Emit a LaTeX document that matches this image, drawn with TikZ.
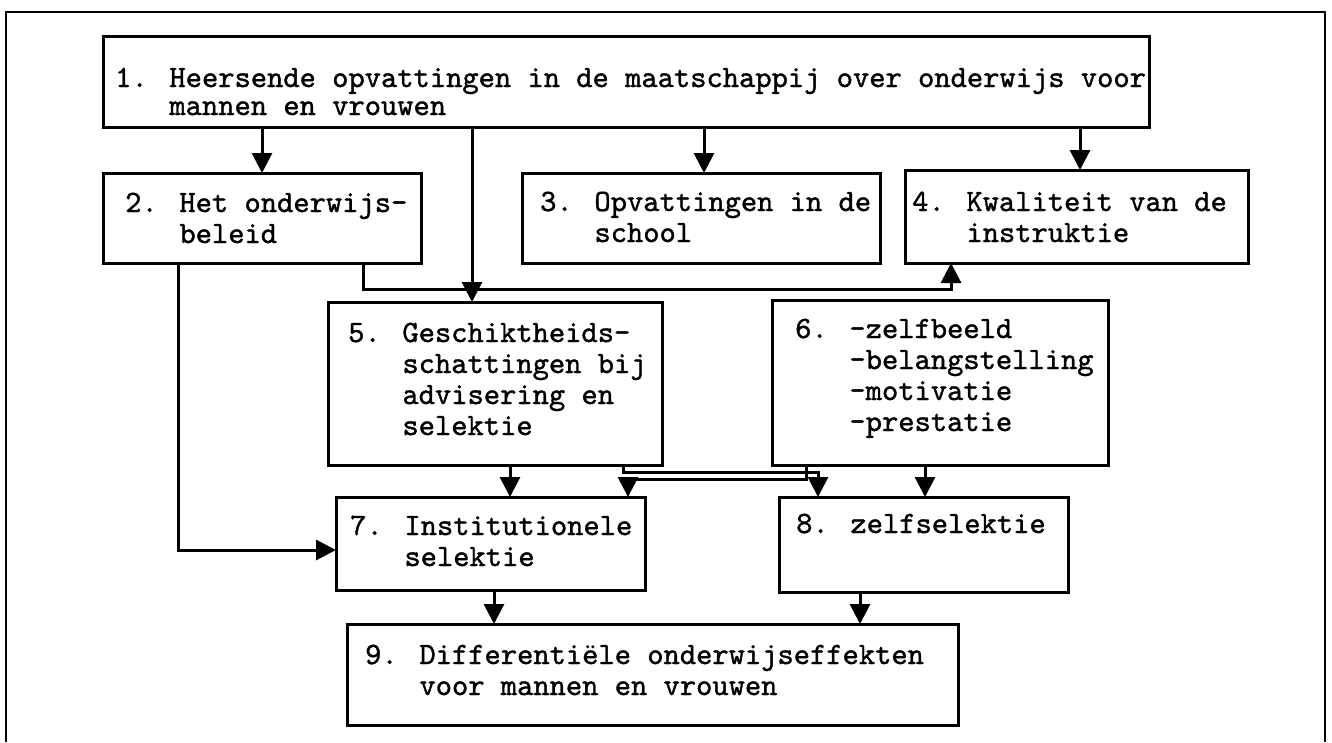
\documentclass[tikz,border=0pt]{standalone}
\usepackage{fontspec}
\newfontfamily\tw{lmmono10-regular}[Extension=.otf, FakeBold=1.2]
\usetikzlibrary{arrows.meta}
\begin{document}
\begin{tikzpicture}[x=1pt,y=-1pt,
  box/.style={draw, line width=3pt, anchor=north west, inner sep=0pt, outer sep=0pt},
  txt/.style={anchor=base west, inner sep=0pt, align=left, font=\tw\fontsize{31}{31}\selectfont},
  arr/.style={line width=3pt, -{Triangle[length=20pt,width=20pt]}},
  framestyle/.style={line width=2.4pt}]
\useasboundingbox (0,0) rectangle (1332,742);
% outer frame
\draw[framestyle] (6,742) -- (6,12) -- (1325,12) -- (1325,742);
% boxes
\node[box, minimum width=1046pt, minimum height=91pt] (b1) at (103,36) {};
\node[box, minimum width=318pt, minimum height=90pt] (b2) at (103,173) {};
\node[box, minimum width=358pt, minimum height=90pt] (b3) at (522,173) {};
\node[box, minimum width=343pt, minimum height=93pt] (b4) at (905,170) {};
\node[box, minimum width=334pt, minimum height=163pt] (b5) at (328,302) {};
\node[box, minimum width=336pt, minimum height=165pt] (b6) at (772,300) {};
\node[box, minimum width=309pt, minimum height=93pt] (b7) at (336,497) {};
\node[box, minimum width=289pt, minimum height=95pt] (b8) at (779,497) {};
\node[box, minimum width=611pt, minimum height=101pt] (b9) at (347,624) {};
% texts (anchored at the baseline of their last line)
\node[txt, font=\tw\fontsize{31}{28}\selectfont] (t1) at (115,115) {1. Heersende opvattingen in de maatschappij over onderwijs voor\\\hphantom{1. }mannen en vrouwen};
\node[txt] (t2) at (125,243) {2. Het onderwijs-\\\hphantom{2. }beleid};
\node[txt] (t3) at (540,242) {3. Opvattingen in de\\\hphantom{3. }school};
\node[txt] (t4) at (912,242) {4. Kwaliteit van de\\\hphantom{4. }instruktie};
\node[txt] (t5) at (348,435) {5. Geschiktheids-\\\hphantom{5. }schattingen bij\\\hphantom{5. }advisering en\\\hphantom{5. }selektie};
\node[txt] (t6) at (795,431) {6. -zelfbeeld\\\hphantom{6. }-belangstelling\\\hphantom{6. }-motivatie\\\hphantom{6. }-prestatie};
\node[txt] (t7) at (350,566) {7. Institutionele\\\hphantom{7. }selektie};
\node[txt] (t8) at (796,533) {8. zelfselektie};
\node[txt] (t9) at (365,695) {9. Differentiële onderwijseffekten\\\hphantom{9. }voor mannen en vrouwen};
% helper coordinates
\coordinate (xa) at (262,0);
\coordinate (xb) at (472,0);
\coordinate (xc) at (704,0);
\coordinate (xd) at (1080,0);
\coordinate (xe) at (363,0);
\coordinate (xf) at (951,0);
\coordinate (xg) at (178,0);
\coordinate (xh) at (510,0);
\coordinate (xi) at (623,0);
\coordinate (xj) at (818,0);
\coordinate (xk) at (806,0);
\coordinate (xl) at (628,0);
\coordinate (xm) at (925,0);
\coordinate (xn) at (494,0);
\coordinate (xo) at (860,0);
\coordinate (ya) at (0,289);
\coordinate (yb) at (0,550);
\coordinate (yc) at (0,472);
\coordinate (yd) at (0,479);
% connectors
\draw[arr] (b1.south -| xa) -- (b2.north -| xa);
\draw[arr] (b1.south -| xb) -- (b5.north -| xb);
\draw[arr] (b1.south -| xc) -- (b3.north -| xc);
\draw[arr] (b1.south -| xd) -- (b4.north -| xd);
\draw[arr] (b2.south -| xe) -- (xe |- ya) -- (xf |- ya) -- (b4.south -| xf);
\draw[arr] (b2.south -| xg) -- (xg |- yb) -- (b7.west |- yb);
\draw[arr] (b5.south -| xh) -- (b7.north -| xh);
\draw[arr] (b5.south -| xi) -- (xi |- yc) -- (xj |- yc) -- (b8.north -| xj);
\draw[arr] (b6.south -| xk) -- (xk |- yd) -- (xl |- yd) -- (b7.north -| xl);
\draw[arr] (b6.south -| xm) -- (b8.north -| xm);
\draw[arr] (b7.south -| xn) -- (b9.north -| xn);
\draw[arr] (b8.south -| xo) -- (b9.north -| xo);
\end{tikzpicture}
\end{document}
